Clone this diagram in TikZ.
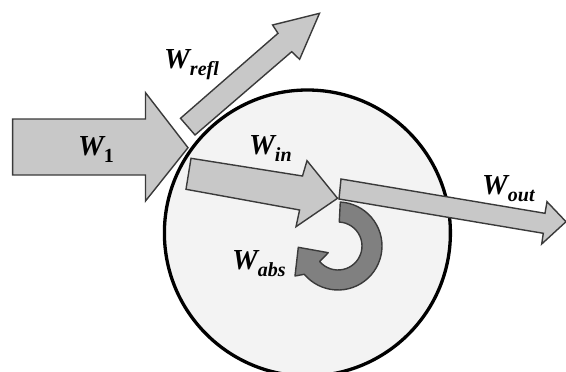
\documentclass[tikz,border=0pt]{standalone}
\usepackage{fontspec}
\setmainfont{Liberation Serif}
\newcommand\wlab[1]{{\fontsize{29}{29}\selectfont\bfseries\itshape W}\raisebox{-7pt}{\fontsize{20}{20}\selectfont\bfseries #1}}
\definecolor{arrowfill}{HTML}{C8C8C8}
\definecolor{arrowline}{HTML}{3A3A3A}
\definecolor{discfill}{HTML}{F3F3F3}
\definecolor{absfill}{HTML}{808080}
\tikzset{
  disc/.style={draw=black, fill=discfill, line width=3.3pt},
  flowarrow/.style={draw=arrowline, fill=arrowfill, line width=1.4pt, line join=miter},
  absarrow/.style={draw=arrowline, fill=absfill, line width=1.4pt, line join=round},
  lbl/.style={anchor=base west, inner sep=0pt, text=black}
}
\begin{document}
\begin{tikzpicture}[x=1pt,y=-1pt]
\useasboundingbox (0,0) rectangle (566,372);
\clip (0,0) rectangle (566,372);
% body
\draw[disc] (307.4,233) circle[radius=143];
% W1
\draw[flowarrow] (12.6,119) -- (145.5,119) -- (145.5,92.7) -- (188,147.7) -- (145.5,201) -- (145.5,175) -- (12.6,175) -- cycle;
% Wrefl
\draw[flowarrow] (180.5,118.3) -- (278,33.3) -- (272.6,25) -- (319.5,13.3) -- (299.6,59.3) -- (291.7,51.7) -- (195,135) -- cycle;
% Win
\draw[flowarrow] (191,158.3) -- (302.5,176) -- (307,160.7) -- (337.5,198.3) -- (296,226.7) -- (299.6,210) -- (186,189.3) -- cycle;
% Wout
\draw[flowarrow] (341,179) -- (545,213.3) -- (547,201.7) -- (566,221.7) -- (541.7,244) -- (543.3,233.3) -- (339,199) -- cycle;
% Wabs
\draw[absarrow] plot[domain=-87:140, samples=40] ({338+44*cos(\x)}, {246+44*sin(\x)})
  -- (295,276) -- (298.3,247.3) -- (328.3,252.7)
  -- plot[domain=140:-87, samples=30] ({338+24*cos(\x)}, {246+24*sin(\x)}) -- cycle;
% labels
\node[lbl] (w1) at (78,155) {\wlab{\upshape 1}};
\node[lbl] (wrefl) at (164,68.3) {\wlab{\itshape refl}};
\node[lbl] (win) at (249,154.5) {\wlab{\itshape in}};
\node[lbl] (wout) at (482,194) {\wlab{\itshape out}};
\node[lbl] (wabs) at (232,269) {\wlab{\itshape abs}};
\end{tikzpicture}
\end{document}
